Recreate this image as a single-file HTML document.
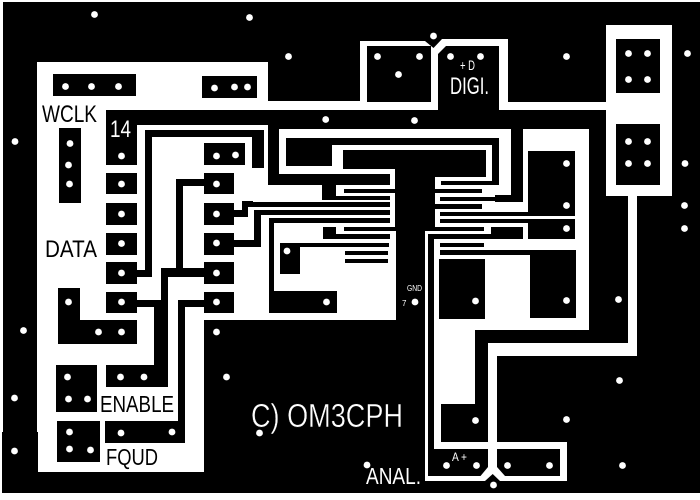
<!DOCTYPE html>
<html><head><meta charset="utf-8"><title>PCB layout</title>
<style>html,body{margin:0;padding:0;background:#fff}svg{display:block}text{font-family:"Liberation Sans",sans-serif}</style>
</head><body>
<svg width="700" height="500" viewBox="0 0 700 500" xmlns="http://www.w3.org/2000/svg">
<rect width="700" height="500" fill="#fff"/>
<path fill="#000" shape-rendering="crispEdges" d="M3 2H700V493H3Z M2 432H3V493H2Z"/>
<path fill="#fff" shape-rendering="crispEdges" d="
M37 62H268V110H37Z M37 110H204V472H37Z M204 110H268V320H204Z M268 185H396V320H268Z
M268 101H438V110H268Z M360 41H425V46H360Z M360 41H367V110H360Z M431 50H438V110H431Z
M442 39H508V46H442Z M499 39H508V110H499Z M499 102H606V110H499Z
M606 25H672V196H606Z M628 196H637V356H628Z M488 343H637V356H488Z M488 343H497V468H488Z
M434 442H567V449H434Z M560 442H567V481H560Z M500 476H567V481H500Z M425 476H484V481H425Z
M425 231H428V481H425Z M425 231H491V234H425Z M484 223H491V234H484Z
M434 239H589V330H434Z M523 129H589V330H523Z M434 330H475V404H434Z M434 404H441V449H434Z
M279 129H511V138H279Z M499 129H511V195H499Z M279 129H286V174H279Z M279 166H332V174H279Z
M332 145H343V174H332Z M332 169H395V174H332Z M390 169H396V189H390Z M332 145H492V150H332Z M486 145H492V181H486Z
M435 177H492V181H435Z M435 177H441V189H435Z M435 185H511V189H435Z M482 185H511V195H482Z M482 195H495V212H482Z M495 202H528V212H495Z
M435 193H495V197H435Z M435 193H440V204H435Z M435 201H495V204H435Z
M435 209H528V212H435Z M435 209H440V227H435Z M440 216H575V219H440Z M435 223H528V227H435Z
"/>
<polygon fill="#fff" points="425,41 433.5,48 442,39 446,39 446,46 438,54 431,54 423,46"/>
<polygon fill="#fff" points="488,467 480.5,476 480.5,481 485,481 492.7,474 500,481 505,481 505,476 497,467"/>
<path fill="#000" shape-rendering="crispEdges" d="
M3 432H38V472H3Z M38 472H204V493H38Z
M106 110H268V125H106Z M106 110H137V165H106Z M268 110H279V185H268Z M268 174H390V185H268Z
M53 74H136V96H53Z M202 76H257V98H202Z M59 128H81V203H59Z
M106 173H137V194H106Z M106 203H137V225H106Z M106 233H137V255H106Z M106 262H137V284H106Z M106 292H137V313H106Z
M204 143H245V165H204Z M204 173H234V194H204Z M204 203H234V225H204Z M204 233H234V255H204Z M204 262H234V284H204Z M204 292H234V313H204Z
M145 130H264V137H145Z M145 130H152V277H145Z M137 270H152V277H137Z M252 130H264V168H252Z
M176 179H204V186H176Z M176 179H183V277H176Z M161 268H204V277H161Z M161 268H168V387H161Z M154 307H168V387H154Z M137 300H168V307H137Z M106 365H168V387H106Z
M178 300H204V307H178Z M178 300H185V443H178Z M105 421H185V443H105Z
M58 288H80V344H58Z M58 320H137V344H58Z M56 365H97V412H56Z M57 421H100V462H57Z
M234 210H248V217H234Z M242 201H248V217H242Z M242 201H253V207H242Z M248 202H390V207H248Z
M254 210H390V215H254Z M254 210H261V247H254Z M234 240H261V247H234Z
M269 218H390V223H269Z M269 218H274V313H269Z M269 291H337V313H269Z
M322 185H336V200H322Z M322 196H390V200H322Z M344 189H396V193H344Z
M323 227H336V239H323Z M323 234H390V239H323Z M344 227H396V231H344Z
M280 243H389V247H280Z M280 243H300V274H280Z M345 251H388V255H345Z M345 259H388V263H345Z
M286 138H332V166H286Z M286 138H499V145H286Z M343 150H486V169H343Z M492 138H499V185H492Z M441 181H499V185H441Z
M395 169H435V231H395Z M396 189H482V193H396Z M440 197H495V201H440Z M495 195H523V202H495Z M396 204H482V209H396Z
M440 212H575V216H440Z M440 219H575V223H440Z M528 151H575V212H528Z M528 223H575V239H528Z M491 227H518V239H491Z M396 227H484V231H396Z
M440 243H484V247H440Z M440 250H530V255H440Z M530 250H576V318H530Z M439 259H485V319H439Z
M616 39H660V93H616Z M616 124H660V185H616Z
M367 46H431V102H367Z
"/>
<g fill="#fff">
<circle cx="94.5" cy="14.5" r="3.4"/><circle cx="249.5" cy="17.5" r="3.4"/><circle cx="288.5" cy="56.5" r="3.4"/><circle cx="433.5" cy="36" r="3.4"/>
<circle cx="377.5" cy="56.5" r="3.4"/><circle cx="419.5" cy="56.5" r="3.4"/><circle cx="398.5" cy="74.5" r="3.4"/><circle cx="450.5" cy="56.5" r="3.4"/><circle cx="480.5" cy="56.5" r="3.4"/><circle cx="566.5" cy="56.5" r="3.4"/>
<circle cx="414.5" cy="120.5" r="3.4"/><circle cx="325.7" cy="119.5" r="3.4"/>
<circle cx="628.5" cy="53.5" r="3.4"/><circle cx="647.5" cy="53.5" r="3.4"/><circle cx="628.5" cy="79.5" r="3.4"/><circle cx="647.5" cy="79.5" r="3.4"/>
<circle cx="628.5" cy="141.5" r="3.4"/><circle cx="647.5" cy="141.5" r="3.4"/><circle cx="628.5" cy="163.5" r="3.4"/><circle cx="647.5" cy="163.5" r="3.4"/>
<circle cx="687.5" cy="53.5" r="3.4"/><circle cx="685" cy="163.5" r="3.4"/><circle cx="684.5" cy="205.5" r="3.4"/><circle cx="684.5" cy="228.5" r="3.4"/>
<circle cx="566.5" cy="163.5" r="3.4"/><circle cx="566.5" cy="205.5" r="3.4"/><circle cx="566.5" cy="228.5" r="3.4"/>
<circle cx="475.5" cy="301" r="3.4"/><circle cx="566.5" cy="300.5" r="3.4"/><circle cx="618.5" cy="299.5" r="3.4"/>
<circle cx="475.5" cy="420.5" r="3.4"/><circle cx="566.5" cy="419.5" r="3.4"/><circle cx="619.5" cy="380.5" r="3.4"/><circle cx="622.5" cy="465.5" r="3.4"/>
<circle cx="446.5" cy="465.5" r="3.4"/><circle cx="476.5" cy="465.5" r="3.4"/><circle cx="507.5" cy="465.5" r="3.4"/><circle cx="549.5" cy="465.5" r="3.4"/>
<circle cx="367" cy="465" r="3.4"/><circle cx="493.5" cy="485" r="3.4"/><circle cx="415" cy="302" r="3.4"/>
<circle cx="15" cy="141.5" r="3.4"/><circle cx="23.5" cy="330.5" r="3.4"/><circle cx="14.5" cy="398" r="3.4"/><circle cx="14.5" cy="451" r="3.4"/>
<circle cx="65.5" cy="86.5" r="3.4"/><circle cx="91.5" cy="86.5" r="3.4"/><circle cx="118.5" cy="86.5" r="3.4"/>
<circle cx="214.5" cy="88" r="3.4"/><circle cx="234.5" cy="87" r="3.4"/><circle cx="247.5" cy="87" r="3.4"/>
<circle cx="70" cy="143.5" r="3.4"/><circle cx="68.5" cy="165" r="3.4"/><circle cx="69.5" cy="184" r="3.4"/>
<circle cx="121.5" cy="156" r="3.4"/><circle cx="121.5" cy="184" r="3.4"/><circle cx="121.5" cy="214" r="3.4"/><circle cx="121.5" cy="243.5" r="3.4"/><circle cx="121.5" cy="273" r="3.4"/><circle cx="121.5" cy="302" r="3.4"/>
<circle cx="216.5" cy="156" r="3.4"/><circle cx="235.5" cy="155" r="3.4"/><circle cx="216.5" cy="184" r="3.4"/><circle cx="216.5" cy="214" r="3.4"/><circle cx="216.5" cy="243" r="3.4"/><circle cx="216.5" cy="273" r="3.4"/><circle cx="216.5" cy="302" r="3.4"/>
<circle cx="287" cy="251" r="3.4"/><circle cx="326.5" cy="302" r="3.4"/>
<circle cx="68.5" cy="302" r="3.4"/><circle cx="98.5" cy="332" r="3.4"/><circle cx="121.5" cy="332" r="3.4"/>
<circle cx="67.5" cy="377" r="3.4"/><circle cx="68.5" cy="399" r="3.4"/><circle cx="87.5" cy="399" r="3.4"/>
<circle cx="120.5" cy="377" r="3.4"/><circle cx="144" cy="377" r="3.4"/>
<circle cx="69.5" cy="432" r="3.4"/><circle cx="69.5" cy="449" r="3.4"/><circle cx="90.5" cy="450" r="3.4"/>
<circle cx="121" cy="433" r="3.4"/><circle cx="172" cy="432" r="3.4"/>
<circle cx="216.5" cy="332" r="3.4"/><circle cx="226.5" cy="377" r="3.4"/><circle cx="259.5" cy="433" r="3.4"/>
</g>
<g fill="#000">
<text x="42" y="122" font-size="24" textLength="55" lengthAdjust="spacingAndGlyphs">WCLK</text>
<text x="45" y="257" font-size="24" textLength="52" lengthAdjust="spacingAndGlyphs">DATA</text>
<text x="100" y="412" font-size="23" textLength="74" lengthAdjust="spacingAndGlyphs">ENABLE</text>
<text x="106" y="465" font-size="23" textLength="52" lengthAdjust="spacingAndGlyphs">FQUD</text>
</g>
<g fill="#fff">
<text x="110" y="137" font-size="24" textLength="21" lengthAdjust="spacingAndGlyphs">14</text>
<text x="450" y="94" font-size="24" textLength="39" lengthAdjust="spacingAndGlyphs">DIGI.</text>
<text x="460" y="70" font-size="14" textLength="15" lengthAdjust="spacingAndGlyphs">+ D</text>
<text x="366" y="484" font-size="23" textLength="55" lengthAdjust="spacingAndGlyphs">ANAL.</text>
<text x="251" y="427" font-size="33" textLength="152" lengthAdjust="spacingAndGlyphs" stroke="#000" stroke-width="0.4">C) OM3CPH</text>
<text x="452" y="461" font-size="12" textLength="15" lengthAdjust="spacingAndGlyphs">A +</text>
<text x="407" y="291" font-size="8" textLength="15" lengthAdjust="spacingAndGlyphs">GND</text>
<text x="402" y="306" font-size="8">7</text>
</g>
</svg>
</body></html>
